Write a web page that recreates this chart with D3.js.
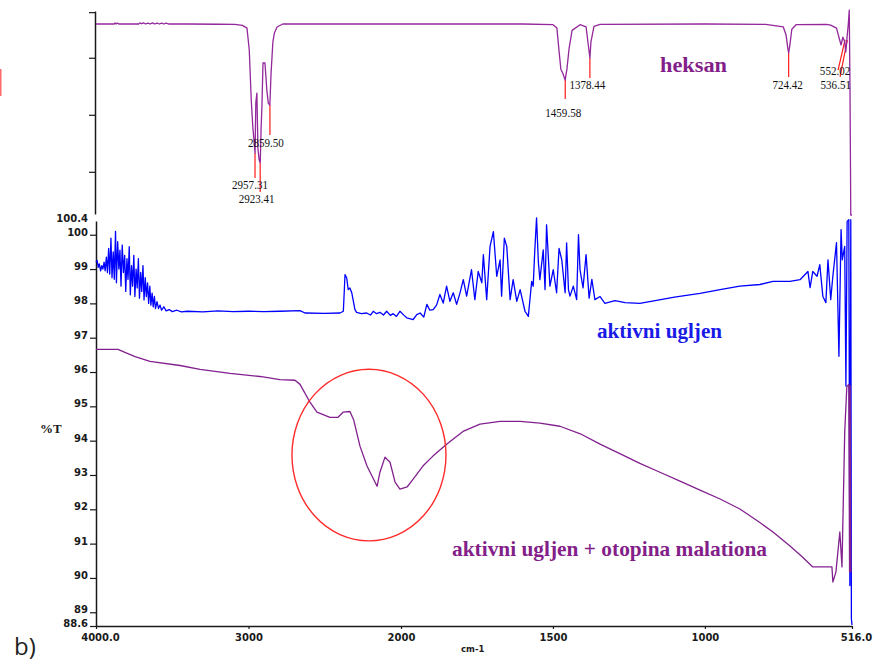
<!DOCTYPE html>
<html><head><meta charset="utf-8">
<script src="https://cdn.jsdelivr.net/npm/d3@7"></script>
<style>body{margin:0;background:#fff}svg{display:block}</style>
</head><body>
<svg id="c" width="873" height="664"></svg>
<script>
// ---------- DATA ----------
const xTickValues = [4000, 3000, 2000, 1500, 1000, 516];
const xTickLabels = ["4000.0", "3000", "2000", "1500", "1000", "516.0"];
const yTickValues = [88.6, 89, 90, 91, 92, 93, 94, 95, 96, 97, 98, 99, 100, 100.4];
const yTickLabels = ["88.6", "89", "90", "91", "92", "93", "94", "95", "96", "97", "98", "99", "100", "100.4"];
const topTickValues = [25, 50, 75, 95];

// heksan spectrum [wavenumber, %T]
const heksan = [[4000,89.8],[3880,89.8],[3875,90.3],[3868,89.8],[3860,90.2],[3850,89.8],[3720,89.8],[3712,90.3],[3700,89.9],[3690,90.3],[3675,89.8],[3660,90.2],[3645,89.8],[3630,90.3],[3615,89.8],[3600,90.2],[3585,89.8],[3570,90.2],[3555,89.8],[3540,90.2],[3525,89.8],[3400,89.8],[3200,89.7],[3090,89.6],[3040,89.2],[3010,88.0],[2995,78.4],[2982,56.5],[2972,45],[2963,38],[2957,33.2],[2952,55.2],[2945,59.5],[2938,35],[2930,30.2],[2923,28.9],[2917,45],[2912,53.4],[2905,72.7],[2892,72.7],[2880,60.9],[2870,55],[2860,54.3],[2852,68.3],[2840,82],[2830,85.9],[2813,88.5],[2775,89.8],[2000,89.8],[1600,89.8],[1500,89.5],[1487,88],[1480,78],[1474,70],[1467,68],[1460,65.2],[1454,70],[1447,79],[1437,87],[1411,89.5],[1391,88.5],[1385,82],[1378.44,74.9],[1375,82],[1365,88.8],[1345,89.6],[1000,89.8],[800,89.6],[742,88.5],[733,85],[727,79],[724.42,77.1],[721,80],[714,87.5],[700,89.5],[600,89.6],[586,89.3],[567,88],[559,84],[552,80.6],[546,84],[540,82],[536.5,77.5],[533,83],[528,90],[525,95.9],[522.5,60],[520,6.06],[516,6.06]];

// aktivni ugljen spectrum [wavenumber, %T]
const ugljen = [[4000,99.2],[3993,99.25],[3985,99.05],[3978,99.15],[3970,98.95],[3962,99.1],[3955,99.0],[3947,99.2],[3940,98.95],[3932,99.35],[3925,98.9],[3917,99.6],[3910,98.85],[3902,99.9],[3895,98.75],[3887,99.5],[3880,98.7],[3872,100.1],[3866,98.6],[3858,99.8],[3850,99.0],[3843,99.55],[3836,98.5],[3828,99.7],[3820,98.9],[3812,99.4],[3805,98.35],[3797,99.3],[3790,98.7],[3782,99.65],[3775,98.25],[3767,99.1],[3760,98.5],[3752,99.4],[3745,98.2],[3737,99.0],[3730,98.45],[3722,99.3],[3715,98.15],[3707,98.9],[3700,98.35],[3692,99.1],[3685,98.1],[3677,98.75],[3670,98.2],[3662,98.6],[3655,98.0],[3647,98.5],[3640,97.95],[3632,98.3],[3625,97.9],[3617,98.2],[3610,97.85],[3600,98.05],[3590,97.85],[3580,97.95],[3570,97.8],[3555,97.9],[3540,97.78],[3520,97.82],[3500,97.76],[3470,97.8],[3440,97.75],[3400,97.77],[3300,97.75],[3200,97.78],[3100,97.76],[3000,97.77],[2900,97.76],[2794,97.77],[2662,97.79],[2630,97.72],[2500,97.71],[2400,97.72],[2378,97.77],[2367,98.84],[2356,98.74],[2346,98.40],[2335,98.45],[2323,98.31],[2302,97.82],[2291,97.74],[2260,97.7],[2225,97.72],[2200,97.66],[2182,97.77],[2160,97.7],[2138,97.74],[2115,97.66],[2094,97.77],[2070,97.65],[2051,97.70],[2030,97.62],[2007,97.77],[1990,97.65],[1981,97.58],[1960,97.53],[1948,97.67],[1937,97.72],[1925,97.6],[1915,97.97],[1905,97.8],[1894,97.82],[1883,97.95],[1872,98.26],[1861,98.01],[1850,98.50],[1839,98.06],[1828,98.31],[1817,97.97],[1806,98.3],[1795,98.69],[1784,98.21],[1768,98.98],[1757,98.11],[1746,98.93],[1734,98.60],[1729,99.42],[1718,98.11],[1707,99.66],[1696,100.09],[1685,98.79],[1674,99.27],[1669,98.21],[1660,99.9],[1652,99.66],[1641,98.11],[1631,98.69],[1619,98.06],[1608,98.40],[1592,97.77],[1581,97.62],[1570,98.64],[1565,98.50],[1560,99.5],[1554,100.49],[1548,99.2],[1543,98.69],[1532,99.56],[1526,98.4],[1521,100.29],[1510,98.50],[1499,98.98],[1488,98.31],[1480,99.6],[1471,99.27],[1460,98.31],[1455,99.76],[1449,98.4],[1444,98.21],[1433,98.50],[1422,98.11],[1416,100.0],[1411,98.98],[1401,98.45],[1391,99.42],[1381,98.15],[1372,98.7],[1362,98.11],[1345,98.2],[1329,98.0],[1296,98.08],[1263,98.02],[1214,98.0],[1150,98.1],[1100,98.18],[1016,98.29],[950,98.4],[885,98.50],[819,98.55],[776,98.64],[720,98.64],[687,98.69],[661,98.93],[654,98.46],[645,98.93],[631,98.79],[622,99.13],[612,98.21],[602,98.02],[595,99.27],[586,98.11],[579,98.79],[567,99.77],[559,96.46],[552,100.15],[548,99.27],[540,99.66],[536,95.59],[532,100.39],[526.5,100.44],[523,89.78],[520,100.44],[518,88.81],[516,88.63]];

// aktivni ugljen + otopina malationa [wavenumber, %T]
const malation = [[4000,96.66],[3856,96.66],[3810,96.57],[3744,96.45],[3646,96.31],[3449,96.19],[3318,96.08],[3121,95.96],[2925,95.87],[2794,95.78],[2695,95.76],[2662,95.64],[2597,95.12],[2551,94.83],[2466,94.68],[2413,94.68],[2380,94.83],[2335,94.85],[2310,94.6],[2269,93.84],[2223,93.26],[2157,92.67],[2138,93.08],[2105,93.52],[2072,93.37],[2039,92.79],[2007,92.59],[1980,92.65],[1960,92.88],[1928,93.26],[1895,93.55],[1849,93.9],[1796,94.27],[1740,94.48],[1674,94.56],[1608,94.56],[1543,94.51],[1477,94.42],[1410,94.2],[1345,93.90],[1280,93.62],[1214,93.34],[1148,93.08],[1082,92.82],[1016,92.56],[950,92.30],[885,92.01],[830,91.68],[776,91.34],[720,90.93],[680,90.62],[645,90.32],[582,90.32],[579,89.88],[569,90.17],[556,91.34],[549,90.32],[540,94.24],[533,95.58],[526.5,95.64],[524,90.17],[522,95.6],[520,90.2],[516,90.2]];

// peak annotations of heksan
const peakWn = [2957.31, 2923.41, 2859.50, 1459.58, 1378.44, 724.42, 552.02, 536.51];
const peakLabels = ["2957.31", "2923.41", "2859.50", "1459.58", "1378.44", "724.42", "552.02", "536.51"];
const peakLineStart = [33.2, 28.9, 54.3, 65.2, 74.9, 77.1, 82.8, 82.8];
const peakLineEnd = [22.3, 16.1, 41.1, 56.9, 66.1, 66.6, 69.6, 66.6];

// red circle annotation (centre wavenumber, %T; half-width in cm-1, half-height in %T)
const circleCentre = [2210, 93.58];
const circleHalf = [505, 2.5];

// ---------- LAYOUT ----------
const svg = d3.select("#c");
const x = d3.scaleLinear().domain([4000, 2000, 516]).range([96, 401, 852]);
const yTop = d3.scaleLinear().domain([6.5, 95.5]).range([214, 11]);
const y = d3.scaleLinear().domain([88.6, 100.4]).range([626, 221]);

const axisColor = "#1a1a1a";
function styleAxis(g) {
  g.select(".domain").attr("stroke", axisColor).attr("stroke-width", 1.5);
  g.selectAll(".tick line").attr("stroke", axisColor).attr("stroke-width", 1.2);
  g.selectAll(".tick text").attr("fill", "#1a1a1a")
    .style("font-family", "DejaVu Sans").style("font-weight", "bold").style("font-size", "10px");
}

// top axis (no labels)
svg.append("g").attr("transform", "translate(95,0)")
  .call(d3.axisLeft(yTop).tickValues(topTickValues).tickFormat("").tickSize(6).tickSizeOuter(0))
  .call(styleAxis);

// bottom y axis
svg.append("g").attr("transform", "translate(96,0)")
  .call(d3.axisLeft(y).tickValues(yTickValues).tickFormat((d, i) => yTickLabels[i]).tickSize(6).tickSizeOuter(0).tickPadding(2))
  .call(styleAxis)
  .call(g => g.selectAll(".tick text").attr("dy", "0.05em"))
  .call(g => g.selectAll(".tick").filter(d => d === 100.4).select("line").remove());

// x axis
svg.append("g").attr("transform", "translate(0,626)")
  .call(d3.axisBottom(x).tickValues(xTickValues).tickFormat((d, i) => xTickLabels[i]).tickSize(3).tickSizeOuter(0).tickPadding(5))
  .call(styleAxis)
  .call(g => g.selectAll(".tick text").attr("dx", d => (d === 4000 || d === 516) ? 4 : 0));

// axis titles
svg.append("text").attr("x", 40).attr("y", 433).text("%T")
  .style("font-family", "Liberation Serif").style("font-weight", "bold").style("font-size", "13px").attr("fill", "#1a1a1a");
svg.append("text").attr("x", 461).attr("y", 652).text("cm-1")
  .style("font-family", "DejaVu Sans").style("font-weight", "bold").style("font-size", "8.5px").attr("fill", "#1a1a1a");

// spectra
const lineB = d3.line().x(d => x(d[0])).y(d => y(d[1]));
const lineT = d3.line().x(d => x(d[0])).y(d => yTop(d[1]));

svg.append("path").datum(ugljen).attr("d", lineB)
  .attr("fill", "none").attr("stroke", "#0000ff").attr("stroke-width", 1.3).attr("stroke-linejoin", "round");
svg.append("path").datum(malation).attr("d", lineB)
  .attr("fill", "none").attr("stroke", "#82208f").attr("stroke-width", 1.3).attr("stroke-linejoin", "round");

// peak marker lines (red)
const slant = [[0,0],[0,0],[0,0],[0,0],[0,0],[0,0],[4,-3],[1.6,-5.7]];
const lblOff = [[-5,11],[-3.5,11],[-4,12],[-2,18],[-2.5,11],[-1,12],[-6,4.5],[-10,12]];
peakWn.forEach((wn, i) => {
  svg.append("line")
    .attr("x1", x(wn) + slant[i][0]).attr("y1", yTop(peakLineStart[i]))
    .attr("x2", x(wn) + slant[i][1]).attr("y2", yTop(peakLineEnd[i]))
    .attr("stroke", "#ff1a1a").attr("stroke-width", 1.2);
});

svg.append("path").datum(heksan).attr("d", lineT)
  .attr("fill", "none").attr("stroke", "#93279b").attr("stroke-width", 1.3).attr("stroke-linejoin", "round");

peakWn.forEach((wn, i) => {
  const t = svg.append("text")
    .attr("x", x(wn) + lblOff[i][0]).attr("y", yTop(peakLineEnd[i]) + lblOff[i][1])
    .attr("text-anchor", "middle").text(peakLabels[i])
    .style("font-family", "Liberation Serif").style("font-size", "12px").attr("fill", "#111");
  const w = t.node().getComputedTextLength();
  t.attr("textLength", w * 0.92).attr("lengthAdjust", "spacingAndGlyphs");
});

// red ellipse annotation
svg.append("ellipse")
  .attr("cx", x(circleCentre[0])).attr("cy", y(circleCentre[1]))
  .attr("rx", x(circleCentre[0]) - x(circleCentre[0] + circleHalf[0]))
  .attr("ry", y(circleCentre[1] - circleHalf[1]) - y(circleCentre[1]))
  .attr("fill", "none").attr("stroke", "#ff2a2a").attr("stroke-width", 1.4);

// series labels
function label(txt, xx, yy, col, len, size) {
  svg.append("text").attr("x", xx).attr("y", yy).text(txt)
    .attr("fill", col).attr("textLength", len).attr("lengthAdjust", "spacingAndGlyphs")
    .style("font-family", "Liberation Serif").style("font-weight", "bold").style("font-size", size + "px");
}
label("heksan", 660, 72, "#841f8a", 67, 20);
label("aktivni ugljen", 597, 338, "#1a1ae8", 125, 20);
label("aktivni ugljen + otopina malationa", 452, 556, "#841f8a", 315, 21);

// left red mark & panel letter
svg.append("rect").attr("x", 0).attr("y", 69).attr("width", 1.5).attr("height", 27).attr("fill", "#ff6a6a");
svg.append("text").attr("x", 14).attr("y", 655).text("b)")
  .style("font-family", "Open Sans").style("font-size", "24px").attr("fill", "#222");
</script>
</body></html>
